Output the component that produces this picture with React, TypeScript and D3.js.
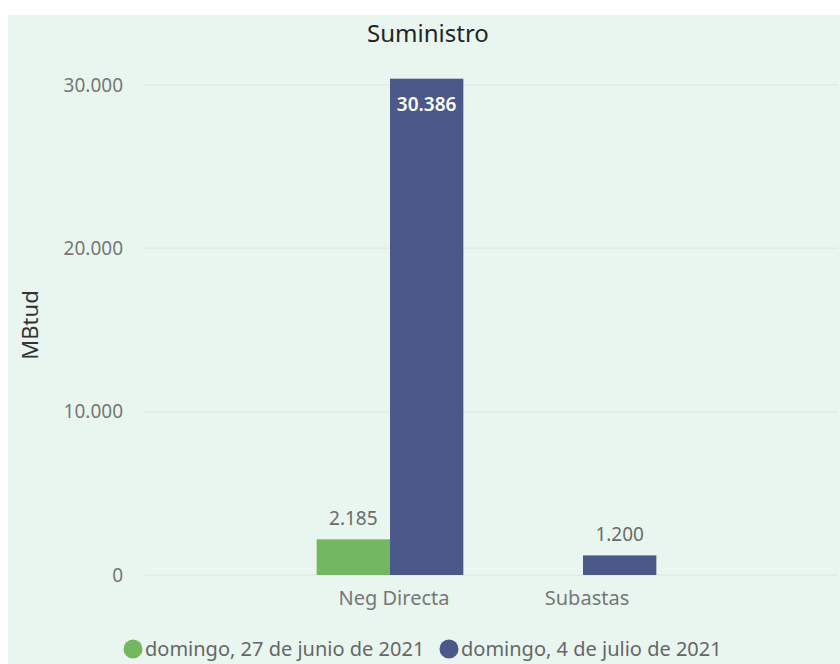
import React from "react";
import * as d3 from "d3";

const categories = ["Neg Directa", "Subastas"];
const seriesNames = ["domingo, 27 de junio de 2021", "domingo, 4 de julio de 2021"];
const seriesJun27: (number | null)[] = [2185, null];
const seriesJul4: (number | null)[] = [30386, 1200];
const yTicks = [0, 10000, 20000, 30000];
const colors = ["#73b761", "#4a588a"];

const W = 840;
const H = 664;

const fmt = (v: number) => d3.format(",")(v).replace(/,/g, ".");

export default function App() {
  const y = d3.scaleLinear().domain([0, 30000]).range([575, 85]);
  const step = 193;
  const center = 486.5;
  const x = d3
    .scaleBand<string>()
    .domain(categories)
    .range([center - step, center + step])
    .paddingInner(0.24)
    .paddingOuter(0.12);
  const xs = d3.scaleBand<string>().domain(["0", "1"]).range([0, x.bandwidth()]);
  const series = [seriesJun27, seriesJul4];
  const font = "'Noto Sans', 'Open Sans', sans-serif";

  return (
    <svg
      width={W}
      height={H}
      style={{ position: "absolute", left: 0, top: 0 }}
      fontFamily={font}
    >
      <rect x={0} y={0} width={W} height={H} fill="#ffffff" />
      <rect x={8} y={15} width={W - 8} height={H - 15} fill="#e8f6ef" />
      <text x={428} y={42} textAnchor="middle" fontSize={24} fill="#252423">
        Suministro
      </text>
      <text
        transform="translate(38,325) rotate(-90)"
        textAnchor="middle"
        fontSize={22}
        fill="#333333"
      >
        MBtud
      </text>
      {yTicks.map((t) => (
        <g key={t}>
          <line x1={145} x2={838} y1={y(t)} y2={y(t)} stroke="#e4e8e6" strokeWidth={1.5} />
          <text x={123} y={y(t)} dy="0.35em" textAnchor="end" fontSize={19} fill="#777777">
            {fmt(t)}
          </text>
        </g>
      ))}
      {categories.map((c, ci) => (
        <g key={c}>
          {series.map((s, si) => {
            const v = s[ci];
            if (v == null) return null;
            const bx = (x(c) as number) + (xs(String(si)) as number);
            const bw = xs.bandwidth();
            const top = y(v);
            const inside = v > 20000;
            return (
              <g key={si}>
                <rect x={bx} y={top} width={bw} height={y(0) - top} fill={colors[si]} />
                <text
                  x={bx + bw / 2}
                  y={inside ? top + 26 : top - 14}
                  dy={inside ? "0.35em" : "0"}
                  textAnchor="middle"
                  fontSize={19}
                  fontWeight={inside ? 600 : 400}
                  fill={inside ? "#ffffff" : "#6b6b6b"}
                >
                  {fmt(v)}
                </text>
              </g>
            );
          })}
          <text
            x={(x(c) as number) + x.bandwidth() / 2 + 4}
            y={605}
            textAnchor="middle"
            fontSize={20}
            fill="#777777"
          >
            {c}
          </text>
        </g>
      ))}
      <g>
        <circle cx={133} cy={649} r={9.5} fill={colors[0]} />
        <text x={145} y={649} dy="0.35em" fontSize={20} fill="#666666">
          {seriesNames[0]}
        </text>
        <circle cx={449} cy={649} r={9.5} fill={colors[1]} />
        <text x={461} y={649} dy="0.35em" fontSize={20} fill="#666666">
          {seriesNames[1]}
        </text>
      </g>
    </svg>
  );
}
